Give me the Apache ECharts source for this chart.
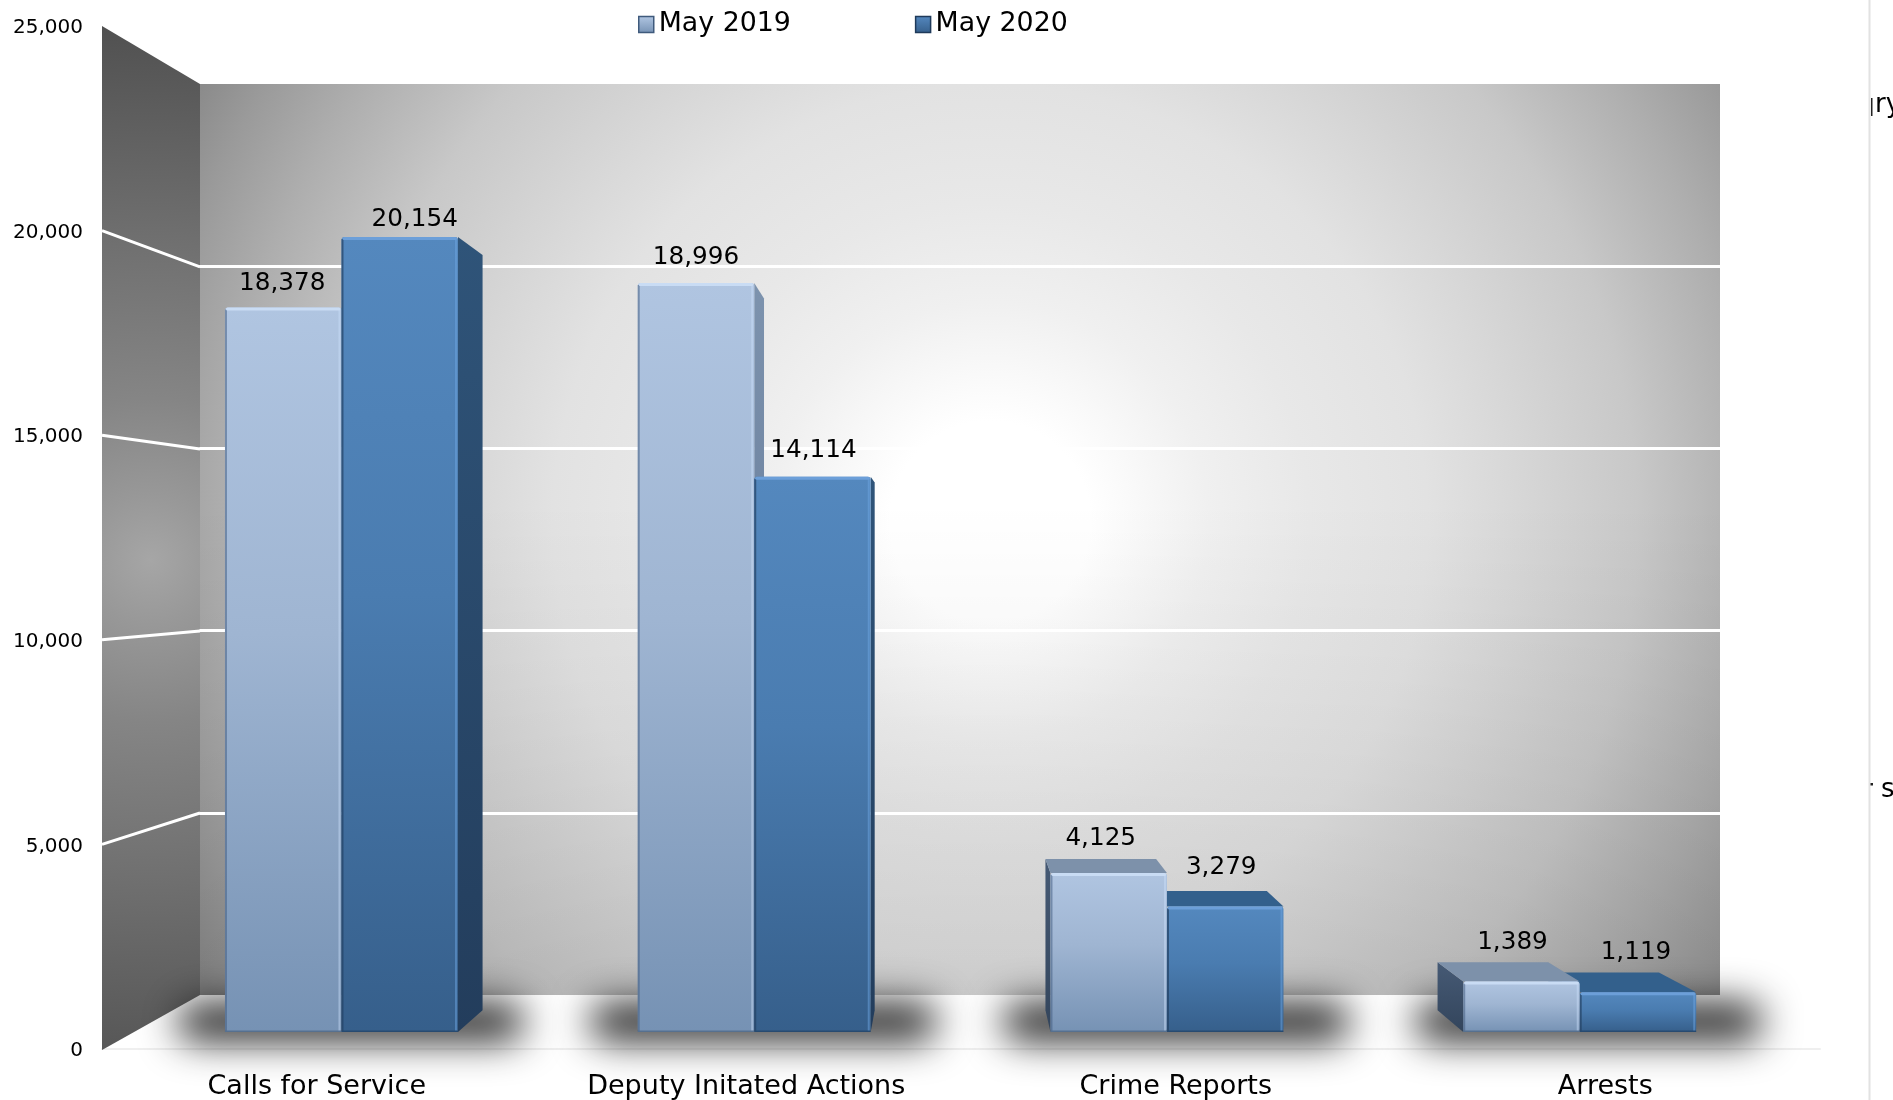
<!DOCTYPE html>
<html>
<head>
<meta charset="utf-8">
<style>html,body{margin:0;padding:0;background:#fff}#chart{width:1893px;height:1100px}</style>
<script src="https://cdn.jsdelivr.net/npm/echarts@6/dist/echarts.min.js"></script>
</head>
<body>
<div id="chart"></div>
<script>
const categories = ['Calls for Service', 'Deputy Initated Actions', 'Crime Reports', 'Arrests'];
const may2019 = [18378, 18996, 4125, 1389];
const may2020 = [20154, 14114, 3279, 1119];
const yTicks = [5000, 10000, 15000, 20000];

const FONT = '"DejaVu Sans", Verdana, sans-serif';
const VP = {x: 950, y: 595, k: 0.05};
const BAR_W = 116, BASE_INSET = 4.7;
const labelNudge = {
  light: [[-1, -24], [0, -25], [-8, -34], [-9, -39]],
  dark: [[15, -17], [1, -26], [-4, -39], [-2, -40]]
};
const LG = (c) => new echarts.graphic.LinearGradient(0, 0, 0, 1, c);
const stops = (...a) => a.map(([offset, color]) => ({offset, color}));

const SKIN = {
  light: {
    front: stops([0, '#b0c5e1'], [0.45, '#9fb5d2'], [1, '#7692b4']),
    sideR: stops([0, '#7d93ae'], [1, '#55698a']),
    sideL: stops([0, '#465a75'], [1, '#33455c']),
    top: '#7d91aa', hi: '#c9dcf4', edgeR: 'rgba(205,225,250,0.45)', edgeL: 'rgba(70,95,130,0.55)', bottom: '#56708f'
  },
  dark: {
    front: stops([0, '#5488be'], [0.45, '#4a7cb0'], [1, '#365f8b']),
    sideR: stops([0, '#2f5479'], [1, '#233d5c']),
    sideL: stops([0, '#2f5479'], [1, '#233d5c']),
    top: '#33608c', hi: '#6c9fd9', edgeR: 'rgba(110,165,225,0.5)', edgeL: 'rgba(35,65,100,0.7)', bottom: '#274a70'
  }
};

const project = (x, y) => [x + (VP.x - x) * VP.k, y + (VP.y - y) * VP.k];

function barRenderer(key, side) {
  const skin = SKIN[key];
  return function (params, api) {
    const i = api.value(0), v = api.value(1);
    const c = api.coord([i, v]);
    const base = api.coord([i, 0])[1] - BASE_INSET;
    const x0 = side < 0 ? c[0] - BAR_W - 0.5 : c[0];
    const x1 = x0 + BAR_W + 0.5;
    const yT = c[1];
    const mid = (x0 + x1) / 2;
    const z = (mid < VP.x) === (key === 'dark') ? 20 : 10;
    const ch = [];
    const ftl = [x0, yT], ftr = [x1, yT], fbl = [x0, base], fbr = [x1, base];
    const btl = project(x0, yT), btr = project(x1, yT), bbl = project(x0, base), bbr = project(x1, base);
    if (btr[0] > x1) {
      ch.push({type: 'polygon', z2: z, shape: {points: [ftr, btr, bbr, fbr]}, style: {fill: LG(skin.sideR)}});
    }
    if (btl[0] < x0) {
      ch.push({type: 'polygon', z2: z, shape: {points: [ftl, btl, bbl, fbl]}, style: {fill: LG(skin.sideL)}});
    }
    if (btl[1] < yT) {
      ch.push({type: 'polygon', z2: z + 1, shape: {points: [ftl, ftr, btr, btl]}, style: {fill: skin.top}});
    }
    ch.push({type: 'rect', z2: z + 2, shape: {x: x0, y: yT, width: x1 - x0, height: base - yT, r: 3}, style: {fill: LG(skin.front)}});
    ch.push({type: 'rect', z2: z + 3, shape: {x: x1 - 3, y: yT + 2, width: 2, height: base - yT - 3}, style: {fill: skin.edgeR}});
    ch.push({type: 'rect', z2: z + 3, shape: {x: x0, y: yT + 2, width: 2, height: base - yT - 3}, style: {fill: skin.edgeL}});
    ch.push({type: 'rect', z2: z + 3, shape: {x: x0, y: base - 1.5, width: x1 - x0, height: 1.5}, style: {fill: skin.bottom}});
    ch.push({type: 'rect', z2: z + 4, shape: {x: x0 + 1, y: yT, width: x1 - x0 - 2, height: 3, r: 1.5}, style: {fill: skin.hi}});
    const n = labelNudge[key][i];
    ch.push({type: 'text', z2: 200, style: {
      text: v.toLocaleString('en-US'), x: mid + n[0], y: yT + n[1],
      align: 'center', verticalAlign: 'middle',
      font: '24.7px ' + FONT, fill: '#000'
    }});
    return {type: 'group', children: ch};
  };
}

function shadowRenderer(params, api) {
  const i = api.value(0);
  const p = api.coord([i, 0]);
  const off = 4000;
  const left = p[0] - BAR_W - 48, right = p[0] + BAR_W + 66;
  return {
    type: 'rect', z2: 1,
    shape: {x: left - off, y: p[1] - 34, width: right - left, height: 38, r: 18},
    style: {fill: '#000', shadowColor: '#222222', shadowBlur: 38, shadowOffsetX: off, shadowOffsetY: 0}
  };
}

function wallGridRenderer(params, api) {
  const v = api.value(0);
  const front = api.coord([0, v]);
  const zero = api.coord([0, 0])[1];
  const scale = 911 / 1024;
  return {
    type: 'line', silent: true,
    shape: {x1: 102, y1: front[1], x2: 200, y2: 995 + (front[1] - zero) * scale},
    style: {stroke: '#ffffff', lineWidth: 3}
  };
}

const chart = echarts.init(document.getElementById('chart'), null, {renderer: 'canvas'});
const radial = (x, y, r, c, g) => new echarts.graphic.RadialGradient(x, y, r, c, g);

chart.setOption({
  animation: false,
  backgroundColor: '#ffffff',
  legend: {
    left: 638, top: 11, padding: 0, itemWidth: 15, itemHeight: 16, itemGap: 124,
    selectedMode: false,
    textStyle: {fontFamily: FONT, fontSize: 26.8, color: '#000'},
    data: [
      {name: 'May 2019', icon: 'rect', itemStyle: {color: LG(stops([0, '#b2c7e3'], [1, '#7692b4'])), borderColor: '#3f5a7c', borderWidth: 1.5}},
      {name: 'May 2020', icon: 'rect', itemStyle: {color: LG(stops([0, '#5589c0'], [1, '#365f8b'])), borderColor: '#1f3a5a', borderWidth: 1.5}}
    ]
  },
  grid: [
    {left: 102, top: 26, width: 1718, height: 1024, show: false},
    {left: 199.5, top: 84, width: 1520.5, height: 911, show: true, borderWidth: 0,
      backgroundColor: radial(0.52, 0.48, 1, stops(
        [0, '#ffffff'], [0.11, '#ffffff'], [0.24, '#f0f0f0'], [0.35, '#e8e8e8'],
        [0.48, '#e2e2e2'], [0.57, '#d8d8d8'], [0.71, '#c8c8c8'], [0.84, '#aeaeae'], [0.93, '#9a9a9a'], [1, '#888888']))},
    {left: 135.1, top: 44.7, width: 1651, height: 992, show: false}
  ],
  xAxis: [
    {gridIndex: 0, type: 'category', data: categories,
      axisLine: {show: true, lineStyle: {color: '#efefef', width: 2}}, axisTick: {show: false},
      axisLabel: {fontFamily: FONT, fontSize: 27, color: '#000', margin: 24}},
    {gridIndex: 1, type: 'category', data: categories, show: false},
    {gridIndex: 2, type: 'category', data: categories, show: false}
  ],
  yAxis: [
    {gridIndex: 0, type: 'value', min: 0, max: 25000, interval: 5000,
      axisLine: {show: false}, axisTick: {show: false}, splitLine: {show: false},
      axisLabel: {margin: 19,
        formatter: (v) => '{t|' + v.toLocaleString('en-US') + '}',
        rich: {t: {fontFamily: FONT, fontSize: 20, color: '#000', lineHeight: 24, verticalAlign: 'bottom'}}}},
    {gridIndex: 1, type: 'value', min: 0, max: 25000, interval: 5000, z: 2,
      axisLine: {show: false}, axisTick: {show: false}, axisLabel: {show: false},
      splitLine: {show: true, showMinLine: false, showMaxLine: false, lineStyle: {color: '#ffffff', width: 3}}},
    {gridIndex: 2, type: 'value', min: 0, max: 25000, interval: 5000, show: false}
  ],
  graphic: [
    {type: 'rect', silent: true, z: 1,
      shape: {x: 199.5, y: 500, width: 1520.5, height: 495},
      style: {fill: LG(stops([0, 'rgba(0,0,0,0)'], [1, 'rgba(0,0,0,0.09)']))}},
    {type: 'polygon', silent: true, z: 1,
      shape: {points: [[102, 26], [200, 84], [200, 995], [102, 1050]]},
      style: {fill: radial(151, 560, 540, stops([0, '#a6a6a6'], [0.12, '#989898'], [0.3, '#858585'], [0.6, '#6f6f6f'], [1, '#505050']), true)}},
    {type: 'line', silent: true, z: 1, shape: {x1: 1869.5, y1: 0, x2: 1869.5, y2: 1100}, style: {stroke: '#e2e2e2', lineWidth: 2}},
    {type: 'text', silent: true, z: 5, style: {text: 'ry', x: 1875, y: 105, font: '26px ' + FONT, fill: '#000', verticalAlign: 'middle'}},
    {type: 'text', silent: true, z: 5, style: {text: 's', x: 1881, y: 790, font: '26px ' + FONT, fill: '#000', verticalAlign: 'middle'}},
    {type: 'rect', silent: true, z: 5, shape: {x: 1871, y: 98, width: 1.5, height: 18}, style: {fill: '#222'}},
    {type: 'rect', silent: true, z: 5, shape: {x: 1870.5, y: 783, width: 2.5, height: 2.5}, style: {fill: '#222'}}
  ],
  series: [
    {type: 'custom', name: 'wall grid', xAxisIndex: 0, yAxisIndex: 0, silent: true, z: 2,
      data: yTicks.map((v) => [v]), encode: {y: 0}, renderItem: wallGridRenderer},
    {type: 'custom', name: 'floor shadow', xAxisIndex: 2, yAxisIndex: 2, silent: true, z: 2,
      data: categories.map((c, i) => [i, 0]), encode: {x: 0, y: 1}, renderItem: shadowRenderer},
    {type: 'custom', name: 'May 2019', xAxisIndex: 2, yAxisIndex: 2, silent: true, z: 3,
      itemStyle: {color: '#a0b6d3'},
      data: may2019.map((v, i) => [i, v]), encode: {x: 0, y: 1}, renderItem: barRenderer('light', -1)},
    {type: 'custom', name: 'May 2020', xAxisIndex: 2, yAxisIndex: 2, silent: true, z: 3,
      itemStyle: {color: '#4a7cb0'},
      data: may2020.map((v, i) => [i, v]), encode: {x: 0, y: 1}, renderItem: barRenderer('dark', 1)}
  ]
});
</script>
</body>
</html>
